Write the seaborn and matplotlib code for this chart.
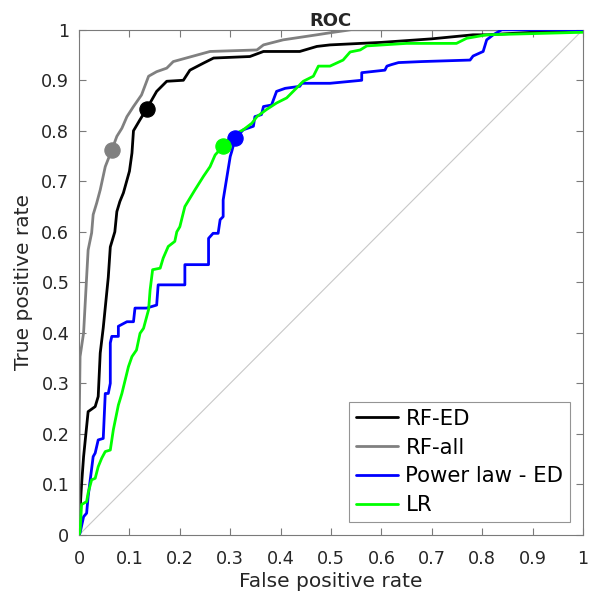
import matplotlib
matplotlib.use("Agg")
import matplotlib.pyplot as plt
import seaborn as sns
import pandas as pd

sns.set_theme(style="white")
plt.rcParams['font.family'] = ['DejaVu Sans']

# ---- data ----
rf_ed_fpr = [0.0, 0.002, 0.005, 0.009, 0.018, 0.032, 0.038, 0.042, 0.048, 0.058, 0.062, 0.071,
             0.075, 0.081, 0.088, 0.100, 0.105, 0.108, 0.121, 0.134, 0.154, 0.174, 0.207, 0.220,
             0.247, 0.267, 0.339, 0.366, 0.438, 0.472, 0.498, 0.60, 0.70, 0.782, 0.81, 0.90, 1.0]
rf_ed_tpr = [0.0, 0.05, 0.10, 0.155, 0.244, 0.254, 0.274, 0.36, 0.41, 0.51, 0.57, 0.60,
             0.64, 0.66, 0.677, 0.72, 0.756, 0.80, 0.822, 0.843, 0.878, 0.898, 0.90, 0.92,
             0.934, 0.944, 0.947, 0.957, 0.957, 0.967, 0.97, 0.975, 0.982, 0.99, 0.99, 0.995, 1.0]

rf_all_fpr = [0.0, 0.0, 0.002, 0.009, 0.015, 0.018, 0.025, 0.028, 0.035, 0.042, 0.052, 0.065,
              0.075, 0.085, 0.095, 0.108, 0.124, 0.138, 0.154, 0.174, 0.187, 0.26, 0.353, 0.366,
              0.405, 0.472, 0.498, 0.54, 1.0]
rf_all_tpr = [0.0, 0.20, 0.353, 0.40, 0.51, 0.564, 0.598, 0.634, 0.657, 0.683, 0.729, 0.762,
              0.789, 0.805, 0.828, 0.848, 0.871, 0.908, 0.917, 0.924, 0.937, 0.957, 0.96, 0.97,
              0.98, 0.99, 0.994, 1.0, 1.0]

pl_fpr = [0.0, 0.002, 0.009, 0.015, 0.018, 0.028, 0.032, 0.038, 0.048, 0.052, 0.058, 0.062,
          0.062, 0.065, 0.078, 0.078, 0.095, 0.108, 0.111, 0.134, 0.154, 0.157, 0.21, 0.21,
          0.257, 0.257, 0.266, 0.276, 0.28, 0.286, 0.286, 0.30, 0.303, 0.31, 0.326, 0.346,
          0.349, 0.362, 0.366, 0.382, 0.392, 0.409, 0.438, 0.442, 0.498, 0.561, 0.561, 0.607,
          0.611, 0.62, 0.634, 0.68, 0.776, 0.782, 0.802, 0.809, 0.822, 0.839, 1.0]
pl_tpr = [0.0, 0.004, 0.036, 0.043, 0.076, 0.155, 0.162, 0.188, 0.191, 0.28, 0.28, 0.30,
          0.38, 0.393, 0.393, 0.413, 0.422, 0.422, 0.449, 0.449, 0.455, 0.495, 0.495, 0.535,
          0.535, 0.587, 0.597, 0.597, 0.624, 0.63, 0.663, 0.749, 0.759, 0.785, 0.802, 0.809,
          0.828, 0.832, 0.848, 0.851, 0.878, 0.884, 0.888, 0.894, 0.894, 0.90, 0.915, 0.92,
          0.928, 0.931, 0.935, 0.937, 0.94, 0.948, 0.957, 0.98, 0.99, 1.0, 1.0]

lr_fpr = [0.0, 0.002, 0.005, 0.015, 0.018, 0.025, 0.032, 0.038, 0.045, 0.052, 0.062, 0.068,
          0.078, 0.085, 0.098, 0.105, 0.114, 0.121, 0.128, 0.138, 0.141, 0.146, 0.161, 0.167,
          0.177, 0.19, 0.194, 0.20, 0.21, 0.23, 0.247, 0.26, 0.27, 0.286, 0.306, 0.326, 0.343,
          0.353, 0.372, 0.392, 0.412, 0.425, 0.445, 0.465, 0.475, 0.498, 0.511, 0.524, 0.538,
          0.558, 0.571, 0.65, 0.749, 0.769, 0.809, 1.0]
lr_tpr = [0.0, 0.007, 0.06, 0.066, 0.083, 0.109, 0.112, 0.135, 0.152, 0.165, 0.168, 0.208,
          0.257, 0.28, 0.333, 0.353, 0.366, 0.399, 0.409, 0.446, 0.485, 0.525, 0.528, 0.548,
          0.571, 0.581, 0.60, 0.61, 0.65, 0.683, 0.71, 0.729, 0.752, 0.77, 0.792, 0.802, 0.815,
          0.828, 0.842, 0.855, 0.865, 0.878, 0.898, 0.908, 0.928, 0.928, 0.934, 0.94, 0.956,
          0.96, 0.968, 0.973, 0.973, 0.983, 0.99, 0.995]

series_names = ["RF-ED", "RF-all", "Power law - ED", "LR"]
series_colors = ["#000000", "#808080", "#0000FF", "#00FF00"]
op_fpr = [0.134, 0.065, 0.31, 0.286]
op_tpr = [0.843, 0.762, 0.785, 0.77]

tick_vals = [0, 0.1, 0.2, 0.3, 0.4, 0.5, 0.6, 0.7, 0.8, 0.9, 1]
tick_labels = ["0", "0.1", "0.2", "0.3", "0.4", "0.5", "0.6", "0.7", "0.8", "0.9", "1"]

# ---- plot ----
fig = plt.figure(figsize=(5.9, 5.95), dpi=100)
ax = fig.add_axes([0.134, 0.101, 0.854, 0.849])

ax.plot([0, 1], [0, 1], color="#c8c8c8", lw=0.8, zorder=1)

curves = [(rf_ed_fpr, rf_ed_tpr), (rf_all_fpr, rf_all_tpr), (pl_fpr, pl_tpr), (lr_fpr, lr_tpr)]
for (fx, ty), name, col in zip(curves, series_names, series_colors):
    df = pd.DataFrame({"fpr": fx, "tpr": ty})
    sns.lineplot(data=df, x="fpr", y="tpr", sort=False, estimator=None, color=col,
                 lw=2.0, ax=ax, label=name, zorder=3)

for x, y, col in zip(op_fpr, op_tpr, series_colors):
    sns.scatterplot(x=[x], y=[y], color=col, s=120, ax=ax, edgecolor=col, zorder=4, legend=False)

ax.set_xlim(0, 1)
ax.set_ylim(0, 1)
ax.set_xticks(tick_vals)
ax.set_xticklabels(tick_labels)
ax.set_yticks(tick_vals)
ax.set_yticklabels(tick_labels)
axcol = "#7a7a7a"
ax.tick_params(direction="in", length=5, width=0.8, color=axcol, labelsize=12.7,
               top=True, right=True, bottom=True, left=True, labelcolor="#262626")
ax.tick_params(axis="x", pad=11)
ax.tick_params(axis="y", pad=7)
for s in ax.spines.values():
    s.set_visible(True)
    s.set_color(axcol)
    s.set_linewidth(0.8)
ax.set_xlabel("False positive rate", fontsize=14.5, color="#262626", labelpad=3)
ax.set_ylabel("True positive rate", fontsize=14.5, color="#262626", labelpad=6)
ax.set_title("ROC", fontsize=13, fontweight="bold", pad=3)
ax.grid(False)

leg = ax.legend(loc="lower right", bbox_to_anchor=(0.974, 0.026), fontsize=15.3,
                frameon=True, fancybox=False, edgecolor=axcol, handlelength=2.0,
                handletextpad=0.35, borderpad=0.3, labelspacing=0.42, borderaxespad=0)
leg.get_frame().set_linewidth(0.8)
for t in leg.get_texts():
    t.set_color("#000000")

fig.savefig("out.png", dpi=100)
